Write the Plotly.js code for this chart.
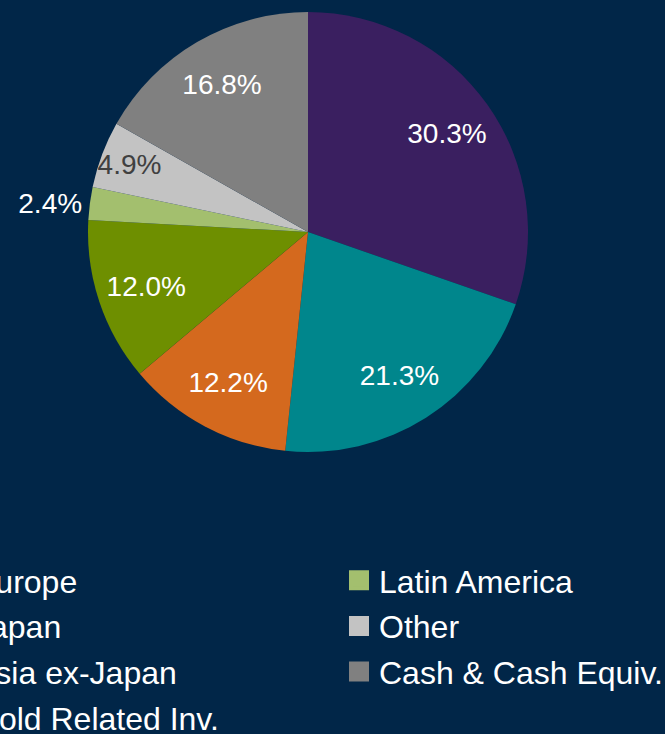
<!DOCTYPE html>
<html><head><meta charset="utf-8">
<script src="https://cdn.plot.ly/plotly-3.0.1.min.js"></script>
<style>html,body{margin:0;padding:0;background:#012648;}#chart{width:665px;height:734px;}</style>
</head><body><div id="chart"></div>
<script>
// Data
const regions = ['Europe', 'Japan', 'Asia ex-Japan', 'Gold Related Inv.', 'Latin America', 'Other', 'Cash & Cash Equiv.'];
const weights = [30.3, 21.3, 12.2, 12.0, 2.4, 4.9, 16.8];

// Styles
const sliceColors = ['#3a1f60', '#00868c', '#d4691e', '#6e8f00', '#a3bf6e', '#c3c3c3', '#808080'];
const labelColors = ['#ffffff', '#ffffff', '#ffffff', '#ffffff', '#ffffff', '#404040', '#ffffff'];
const outerLabel = ['none', 'none', 'none', 'none', 'outside', 'none', 'none'];
const ringLabel = ['inside', 'inside', 'inside', 'inside', 'none', 'inside', 'inside'];
const legendColumn = ['legend', 'legend', 'legend', 'legend', 'legend2', 'legend2', 'legend2'];
const FONT = 'Liberation Sans, Arial, sans-serif';
const BG = '#012648';
const pieDomain = {x: [88/665, 528/665], y: [1 - 452/734, 1 - 12/734]};

// Filled pie (slices + the one outside label)
const pie = {
  type: 'pie',
  labels: regions,
  values: weights,
  sort: false,
  direction: 'clockwise',
  rotation: 0,
  marker: {colors: sliceColors, line: {width: 0}},
  texttemplate: '%{value:.1f}%',
  textposition: outerLabel,
  outsidetextfont: {family: FONT, size: 28, color: '#ffffff'},
  showlegend: false,
  hoverinfo: 'skip',
  domain: pieDomain
};

// Transparent ring over the pie that carries the inside labels near the rim
const labelRing = {
  type: 'pie',
  labels: regions,
  values: weights,
  sort: false,
  direction: 'clockwise',
  rotation: 0,
  hole: 0.55,
  marker: {colors: regions.map(() => 'rgba(0,0,0,0)'), line: {width: 0}},
  texttemplate: '%{value:.1f}%',
  textposition: ringLabel,
  insidetextorientation: 'horizontal',
  insidetextfont: {family: FONT, size: 28, color: labelColors},
  showlegend: false,
  hoverinfo: 'skip',
  domain: pieDomain
};

const legendEntries = regions.map((name, i) => ({
  type: 'scatter',
  x: [null], y: [null],
  mode: 'markers',
  name: name,
  legend: legendColumn[i],
  legendgroup: 'g' + i,
  marker: {symbol: 'square', size: 16, color: sliceColors[i], line: {color: sliceColors[i], width: 4}},
  hoverinfo: 'skip'
}));

const legendStyle = {
  xanchor: 'left', yanchor: 'top',
  font: {family: FONT, size: 32, color: '#ffffff'},
  bgcolor: 'rgba(0,0,0,0)',
  traceorder: 'grouped',
  tracegroupgap: 1
};

const layout = {
  width: 665, height: 734,
  paper_bgcolor: BG, plot_bgcolor: BG,
  margin: {l: 0, r: 0, t: 0, b: 0, autoexpand: false},
  xaxis: {visible: false}, yaxis: {visible: false},
  showlegend: true,
  uniformtext: {minsize: 28, mode: 'show'},
  legend: Object.assign({x: -66/665, y: 1 - 553/734}, legendStyle),
  legend2: Object.assign({x: 339/665, y: 1 - 553/734}, legendStyle)
};

Plotly.newPlot('chart', [pie, labelRing].concat(legendEntries), layout, {displayModeBar: false, staticPlot: true});
</script>
</body></html>
